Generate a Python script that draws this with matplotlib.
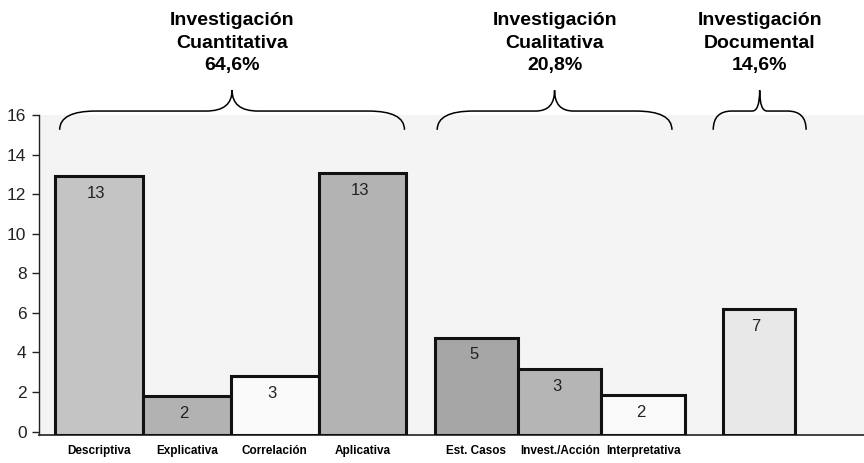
import matplotlib
matplotlib.use('Agg')
from matplotlib import pyplot as plt
from matplotlib.path import Path
from matplotlib.patches import PathPatch

# data
categories = ['Descriptiva', 'Explicativa', 'Correlación', 'Aplicativa',
              'Est. Casos', 'Invest./Acción', 'Interpretativa', '']
heights = [12.9, 1.8, 2.8, 13.05, 4.75, 3.15, 1.85, 6.2]      # drawn bar tops
value_labels = ['13', '2', '3', '13', '5', '3', '2', '7']
group_titles = ['Investigación\nCuantitativa\n64,6%',
                'Investigación\nCualitativa\n20,8%',
                'Investigación\nDocumental\n14,6%']
group_sizes = [4, 3, 1]

# styling / layout
colors = ['#c4c4c4', '#b2b2b2', '#fafafa', '#b3b3b3',
          '#a6a6a6', '#b5b5b5', '#f9f9f9', '#e8e8e8']
group_left = [0.19, 4.6, 7.95]
group_barw = [1.02, 0.97, 0.84]
brace_pad = [(0.05, -0.02), (0.03, -0.15), (-0.11, 0.13)]
ybase = -0.17

plt.rcParams['font.family'] = ['Liberation Sans', 'DejaVu Sans']

lefts, widths = [], []
for g, n in enumerate(group_sizes):
    for k in range(n):
        lefts.append(group_left[g] + k * group_barw[g])
        widths.append(group_barw[g])
centers = [l + w / 2 for l, w in zip(lefts, widths)]

fig = plt.figure(figsize=(8.64, 4.63), dpi=100)
ax = fig.add_axes([39 / 864, 28 / 463, 1 - 39 / 864, (435 - 115) / 463])
ax.set_facecolor('#f4f4f4')

ax.bar(lefts, [h - ybase for h in heights], width=widths, bottom=ybase,
       align='edge', color=colors, edgecolor='#111111', linewidth=2.2,
       zorder=3)

for c, h, t in zip(centers, heights, value_labels):
    ax.annotate(t, (c, h), xytext=(-2, -7), textcoords='offset points',
                ha='center', va='top', fontsize=12, color='#222222', zorder=4)


def brace(ax, x0, x1, yb, yf, yt, r, d):
    xm = (x0 + x1) / 2
    verts = [(x0, yb), (x0, yf), (x0 + r, yf), (xm - d, yf), (xm, yf),
             (xm, yt), (xm, yf), (xm + d, yf), (x1 - r, yf), (x1, yf),
             (x1, yb)]
    codes = [Path.MOVETO, Path.CURVE3, Path.CURVE3, Path.LINETO,
             Path.CURVE3, Path.CURVE3, Path.CURVE3, Path.CURVE3,
             Path.LINETO, Path.CURVE3, Path.CURVE3]
    ax.add_patch(PathPatch(Path(verts, codes), fill=False, lw=1.1,
                           edgecolor='black', clip_on=False))
    return xm


start = 0
for g, n in enumerate(group_sizes):
    x0 = lefts[start] + brace_pad[g][0]
    x1 = lefts[start + n - 1] + widths[start + n - 1] + brace_pad[g][1]
    span = x1 - x0
    xm = brace(ax, x0, x1, 15.25, 16.2, 17.25,
               min(0.42, 0.2 * span), min(0.3, 0.08 * span))
    ax.text(xm, 21.2, group_titles[g], ha='center', va='top', fontsize=14,
            fontweight='bold', linespacing=1.42, clip_on=False)
    start += n

ax.set_xlim(0, 9.593)
ax.set_ylim(ybase, 16)
ax.set_yticks(range(0, 17, 2))
ax.tick_params(axis='y', labelsize=12.5, length=5, width=1, pad=4,
               colors='#222222')
ax.set_xticks(centers)
ax.set_xticklabels(categories, fontsize=8.5, fontweight='bold')
ax.tick_params(axis='x', length=0, pad=7)

for s in ['top', 'right']:
    ax.spines[s].set_visible(False)
ax.spines['left'].set_color('#222222')
ax.spines['left'].set_linewidth(1.0)
ax.spines['bottom'].set_color('#333333')
ax.spines['bottom'].set_linewidth(1.3)

fig.savefig('out.png', dpi=100)
